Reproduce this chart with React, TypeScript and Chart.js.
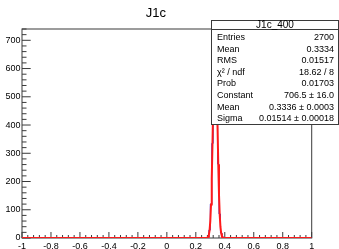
import React, { useEffect, useRef } from "react";
import { Chart, registerables } from "chart.js";

Chart.register(...registerables);

// ---- data ----
const chartTitle = "J1c";
const binLowEdges = [0.28, 0.29, 0.3, 0.31, 0.32, 0.33, 0.34, 0.35, 0.36, 0.37, 0.38];
const binWidth = 0.01;
const binCounts = [3, 28, 120, 335, 600, 705, 530, 262, 85, 18, 4];

const fitX = [-1, 0.27, 0.275, 0.28, 0.285, 0.29, 0.295, 0.3, 0.305, 0.31, 0.315, 0.32, 0.325, 0.33, 0.335, 0.34, 0.345, 0.35, 0.355, 0.36, 0.365, 0.37, 0.375, 0.38, 0.385, 0.39, 0.395, 0.4, 1];
const fitY = [0, 0.1, 0.4, 1.3, 4, 11, 27, 60, 119, 210, 332, 472, 601, 687, 704, 646, 532, 393, 260, 154, 82, 39, 17, 6.4, 2, 0.7, 0.2, 0.05, 0];

const xMin = -1;
const xMax = 1;
const yMin = 0;
const yMax = 740;
const xTickValues = [-1, -0.8, -0.6, -0.4, -0.2, 0, 0.2, 0.4, 0.6, 0.8, 1];
const xTickLabels = ["-1", "-0.8", "-0.6", "-0.4", "-0.2", "0", "0.2", "0.4", "0.6", "0.8", "1"];
const yTickValues = [0, 100, 200, 300, 400, 500, 600, 700];
const yTickLabels = ["0", "100", "200", "300", "400", "500", "600", "700"];
const xMinorStep = 0.04;
const yMinorStep = 20;

const statsTitle = "J1c_400";
const statsLabels = ["Entries", "Mean", "RMS", "\u03C7\u00B2 / ndf", "Prob", "Constant", "Mean", "Sigma"];
const statsValues = ["2700", "0.3334", "0.01517", "18.62 / 8", "0.01703", "706.5 \u00B1 16.0", "0.3336 \u00B1 0.0003", "0.01514 \u00B1 0.00018"];

const FONT = "'Liberation Sans', Arial, Helvetica, sans-serif";

const rootDecor = {
  id: "rootDecor",
  beforeDatasetsDraw(chart: any) {
    const { ctx, chartArea: a, scales } = chart;
    const xs = scales.x;
    const ys = scales.y;
    ctx.save();
    ctx.strokeStyle = "#3a3a3a";
    ctx.lineWidth = 1;
    ctx.strokeRect(a.left, a.top, a.right - a.left, a.bottom - a.top);
    ctx.beginPath();
    const nx = Math.round((xMax - xMin) / xMinorStep);
    for (let i = 0; i <= nx; i++) {
      const v = xMin + i * xMinorStep;
      const px = xs.getPixelForValue(v);
      const len = i % 5 === 0 ? 6 : 3;
      ctx.moveTo(px, a.bottom);
      ctx.lineTo(px, a.bottom - len);
    }
    const ny = Math.floor((yMax - yMin) / yMinorStep);
    for (let i = 0; i <= ny; i++) {
      const v = yMin + i * yMinorStep;
      const py = ys.getPixelForValue(v);
      const len = i % 5 === 0 ? 8.7 : 4.5;
      ctx.moveTo(a.left, py);
      ctx.lineTo(a.left + len, py);
    }
    ctx.stroke();
    ctx.restore();
  },
  afterDraw(chart: any) {
    const { ctx } = chart;
    const left = 211.5;
    const right = 338.5;
    const top = 20.5;
    const bottom = 124.5;
    const headerBottom = 29.5;
    ctx.save();
    ctx.fillStyle = "#ffffff";
    ctx.fillRect(left, top, right - left, bottom - top);
    ctx.strokeStyle = "#3a3a3a";
    ctx.lineWidth = 1;
    ctx.strokeRect(left, top, right - left, bottom - top);
    ctx.beginPath();
    ctx.moveTo(left, headerBottom);
    ctx.lineTo(right, headerBottom);
    ctx.stroke();
    ctx.fillStyle = "#000";
    ctx.textBaseline = "middle";
    ctx.textAlign = "center";
    ctx.font = `10px ${FONT}`;
    ctx.fillText(statsTitle, (left + right) / 2, 25.3);
    ctx.font = `9px ${FONT}`;
    const rowStart = 37.8;
    const rowStep = 11.55;
    for (let i = 0; i < statsLabels.length; i++) {
      const y = rowStart + i * rowStep;
      ctx.textAlign = "left";
      ctx.fillText(statsLabels[i], 217, y);
      ctx.textAlign = "right";
      ctx.fillText(statsValues[i], 334, y);
    }
    ctx.restore();
  },
};

export default function App() {
  const ref = useRef<HTMLCanvasElement | null>(null);
  useEffect(() => {
    if (!ref.current) return;
    const histPoints: { x: number; y: number }[] = [{ x: xMin, y: 0 }];
    binLowEdges.forEach((e, i) => histPoints.push({ x: e, y: binCounts[i] }));
    histPoints.push({ x: binLowEdges[binLowEdges.length - 1] + binWidth, y: 0 });
    histPoints.push({ x: xMax, y: 0 });
    const fitPoints = fitX.map((x, i) => ({ x, y: fitY[i] }));

    const chart = new Chart(ref.current, {
      type: "line",
      data: {
        datasets: [
          {
            label: "hist",
            data: histPoints,
            borderColor: "#3b3bd9",
            borderWidth: 1,
            pointRadius: 0,
            stepped: "before",
            fill: false,
            order: 2,
          },
          {
            label: "fit",
            data: fitPoints,
            borderColor: "#ff1a1a",
            borderWidth: 2,
            pointRadius: 0,
            tension: 0,
            fill: false,
            order: 1,
          },
        ],
      },
      options: {
        responsive: false,
        animation: false,
        events: [],
        layout: { padding: { left: 0, right: 27.3, top: 0, bottom: 0 } },
        plugins: {
          legend: { display: false },
          tooltip: { enabled: false },
          title: {
            display: true,
            text: chartTitle,
            color: "#000",
            font: { family: FONT, size: 13, weight: "normal", lineHeight: 1.2 },
            padding: { top: 6, bottom: 7.4 },
          },
        },
        scales: {
          x: {
            type: "linear",
            min: xMin,
            max: xMax,
            grid: { display: false, drawTicks: false },
            border: { display: false },
            afterBuildTicks: (s: any) => {
              s.ticks = xTickValues.map((v) => ({ value: v }));
            },
            afterFit: (s: any) => {
              s.height = 11;
            },
            ticks: {
              autoSkip: false,
              maxRotation: 0,
              minRotation: 0,
              padding: 3,
              color: "#000",
              font: { family: FONT, size: 9 },
              callback: (_v: any, i: number) => xTickLabels[i],
            },
          },
          y: {
            type: "linear",
            min: yMin,
            max: yMax,
            grid: { display: false, drawTicks: false },
            border: { display: false },
            afterBuildTicks: (s: any) => {
              s.ticks = yTickValues.map((v) => ({ value: v }));
            },
            afterFit: (s: any) => {
              s.width = 22;
            },
            ticks: {
              autoSkip: false,
              padding: 1.5,
              color: "#000",
              font: { family: FONT, size: 9 },
              callback: (_v: any, i: number) => yTickLabels[i],
            },
          },
        },
      },
      plugins: [rootDecor],
    });
    return () => chart.destroy();
  }, []);

  return (
    <div style={{ position: "fixed", left: 0, top: 0, width: 339, height: 249, background: "#fff" }}>
      <canvas ref={ref} width={339} height={249} style={{ width: 339, height: 249, display: "block" }} />
    </div>
  );
}
